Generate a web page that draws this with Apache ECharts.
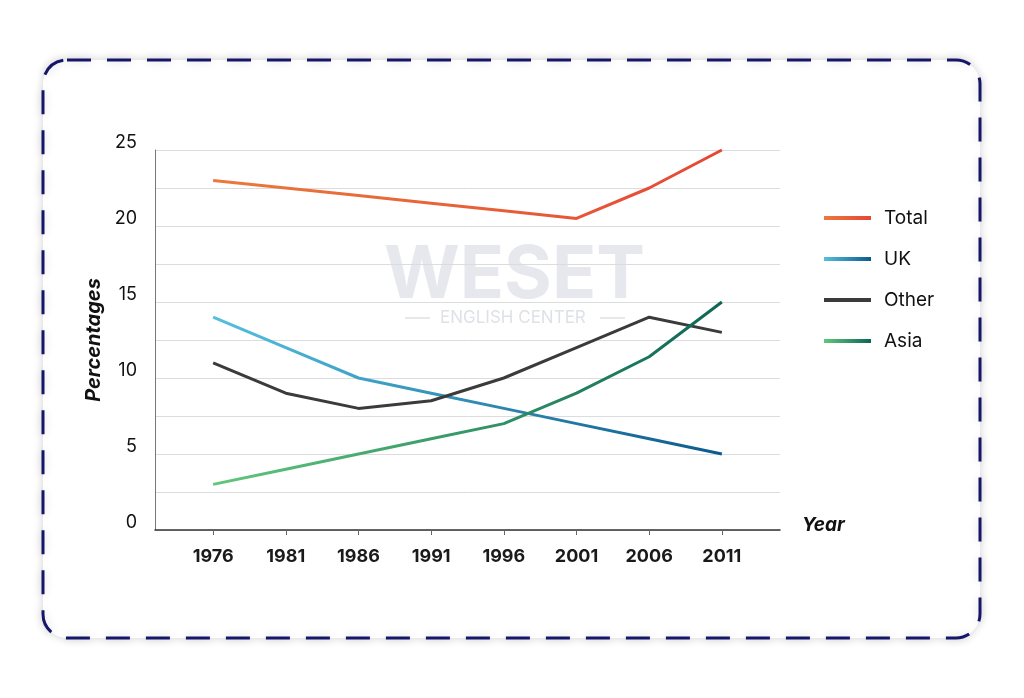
<!DOCTYPE html>
<html>
<head>
<meta charset="utf-8">
<title>Percentages by year</title>
<script src="https://cdn.jsdelivr.net/npm/echarts@6/dist/echarts.min.js"></script>
<style>
  html, body { margin: 0; padding: 0; background: #ffffff; }
  #chart { width: 1024px; height: 698px; }
</style>
</head>
<body>
<div id="chart"></div>
<script>
'use strict';

var years = ['1976', '1981', '1986', '1991', '1996', '2001', '2006', '2011'];
var total = [23, 22.5, 22, 21.5, 21, 20.5, 22.5, 25];
var uk = [14, 12, 10, 9, 8, 7, 6, 5];
var other = [11, 9, 8, 8.5, 10, 12, 14, 13];
var asia = [3, 4, 5, 6, 7, 9, 11.4, 15];
var yTicks = [0, 5, 10, 15, 20, 25];

var FONT = 'Inter, "Noto Sans", sans-serif';

function toPoints(values) {
    var out = [];
    for (var i = 0; i < values.length; i++) {
        out.push([i, values[i]]);
    }
    return out;
}

function grad(c1, c2) {
    return new echarts.graphic.LinearGradient(0, 0, 1, 0, [
        { offset: 0, color: c1 },
        { offset: 1, color: c2 }
    ]);
}

function lineSeries(name, values, color) {
    return {
        name: name,
        type: 'line',
        data: toPoints(values),
        symbol: 'none',
        lineStyle: { width: 3, color: color },
        itemStyle: { color: color },
        z: 3
    };
}

var idx = years.map(function (y, i) { return i; });

var chart = echarts.init(document.getElementById('chart'));

var options = {
    backgroundColor: '#ffffff',
    animation: false,
    textStyle: { fontFamily: FONT },
    graphic: [
        {
            type: 'rect',
            shape: { x: 43, y: 60, width: 937, height: 578, r: 24 },
            style: {
                fill: '#ffffff',
                stroke: '#15156a',
                lineWidth: 3,
                lineDash: [24, 16],
                shadowBlur: 10,
                shadowColor: 'rgba(0,0,0,0.18)'
            },
            z: -10
        },
        {
            type: 'text',
            left: 384,
            top: 240,
            style: {
                text: 'WESET',
                font: 'bold 73px ' + FONT,
                fill: 'rgba(200,205,214,0.45)'
            },
            z: 0
        },
        {
            type: 'text',
            left: 440,
            top: 309,
            style: {
                text: 'ENGLISH CENTER',
                font: '17px ' + FONT,
                fill: 'rgba(195,200,210,0.55)'
            },
            z: 0
        },
        {
            type: 'line',
            shape: { x1: 405, y1: 318, x2: 430, y2: 318 },
            style: { stroke: 'rgba(195,200,210,0.55)', lineWidth: 1.5 },
            z: 0
        },
        {
            type: 'line',
            shape: { x1: 600, y1: 318, x2: 625, y2: 318 },
            style: { stroke: 'rgba(195,200,210,0.55)', lineWidth: 1.5 },
            z: 0
        }
    ],
    legend: {
        data: ['Total', 'UK', 'Other', 'Asia'],
        orient: 'vertical',
        left: 824,
        top: 208,
        padding: 0,
        itemGap: 21,
        itemWidth: 47,
        itemHeight: 4,
        icon: 'rect',
        textStyle: {
            fontFamily: FONT,
            fontSize: 19,
            color: '#111111',
            lineHeight: 20,
            padding: [0, 0, 0, 8]
        }
    },
    grid: {
        left: 155,
        right: 244,
        top: 150,
        bottom: 168,
        containLabel: false
    },
    xAxis: {
        type: 'value',
        min: -0.8,
        max: 7.8,
        name: 'Year',
        nameLocation: 'end',
        nameGap: 22,
        nameTextStyle: {
            fontFamily: FONT,
            fontSize: 19,
            fontWeight: 'bold',
            fontStyle: 'italic',
            color: '#111111',
            verticalAlign: 'bottom',
            lineHeight: 10
        },
        axisLine: { lineStyle: { color: '#333333', width: 1.5 } },
        axisTick: {
            show: true,
            customValues: idx,
            length: 5,
            lineStyle: { color: '#666666' }
        },
        axisLabel: {
            customValues: idx,
            formatter: function (v) { return years[Math.round(v)]; },
            margin: 18,
            fontFamily: FONT,
            fontSize: 18,
            fontWeight: 'bold',
            color: '#1a1a1a'
        },
        splitLine: { show: false }
    },
    yAxis: {
        type: 'value',
        min: 0,
        max: 25,
        interval: 2.5,
        name: 'Percentages',
        nameLocation: 'middle',
        nameRotate: 90,
        nameGap: 48,
        nameTextStyle: {
            fontFamily: FONT,
            fontSize: 20,
            fontWeight: 'bold',
            fontStyle: 'italic',
            color: '#111111'
        },
        axisLine: { show: true, onZero: false, lineStyle: { color: '#777777', width: 1 } },
        axisTick: { show: false },
        axisLabel: {
            margin: 18,
            fontFamily: FONT,
            fontSize: 18,
            color: '#111111',
            verticalAlign: 'bottom',
            lineHeight: 14,
            formatter: function (v) {
                return yTicks.indexOf(v) >= 0 ? String(v) : '';
            }
        },
        splitLine: { lineStyle: { color: '#dcdcdc', width: 1 } }
    },
    series: [
        lineSeries('Total', total, grad('#ea7a3c', '#e54734')),
        lineSeries('UK', uk, grad('#55c0de', '#0c5a8c')),
        lineSeries('Other', other, '#3b3b3b'),
        lineSeries('Asia', asia, grad('#62c77c', '#0b6655'))
    ]
};

chart.setOption(options);
chart.resize();
window.onresize = function () {
    chart.resize();
};
</script>
</body>
</html>
